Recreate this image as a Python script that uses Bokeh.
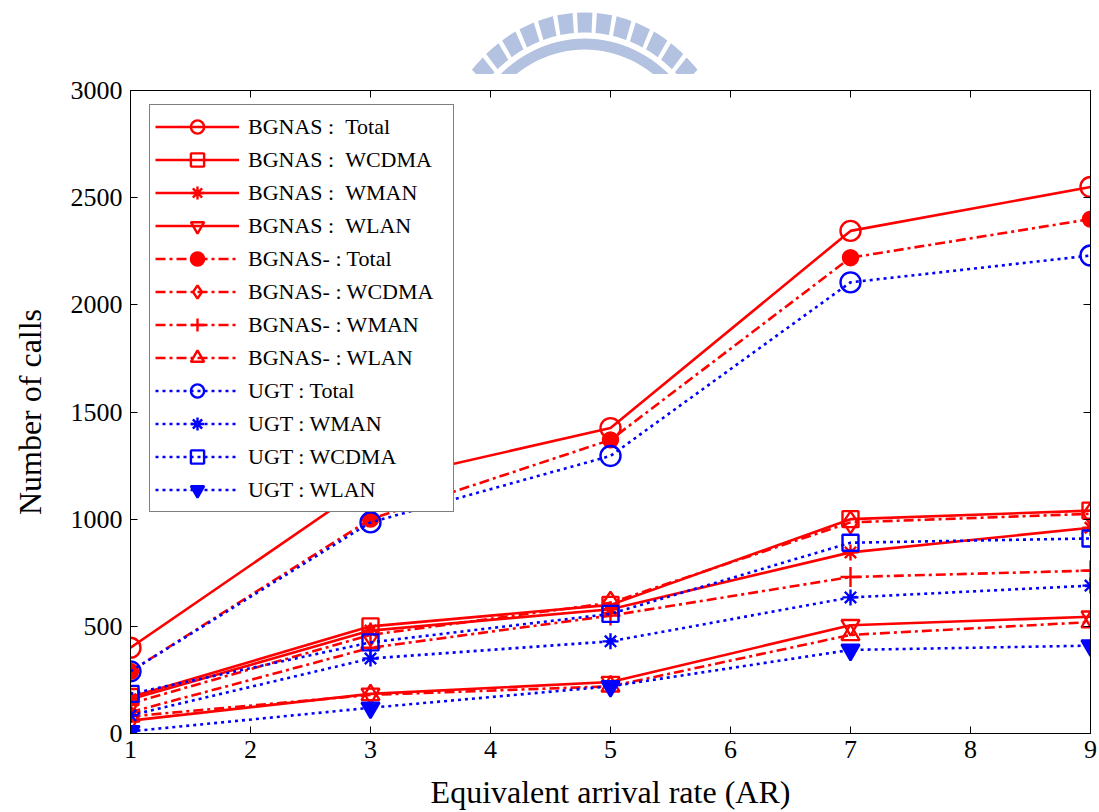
import math

from bokeh.embed import file_html
from bokeh.layouts import column
from bokeh.models import Legend, LegendItem, LinearAxis, Range1d
from bokeh.plotting import figure
from bokeh.resources import INLINE

# ---------------------------------------------------------------- data
arrival_rate = [1, 3, 5, 7, 9]

bgnas_total = [400, 1170, 1425, 2345, 2550]
bgnas_wcdma = [170, 500, 600, 1000, 1040]
bgnas_wman = [160, 480, 580, 845, 960]
bgnas_wlan = [60, 185, 240, 505, 545]

bgnas_minus_total = [290, 1000, 1370, 2220, 2400]
bgnas_minus_wcdma = [140, 460, 610, 985, 1025]
bgnas_minus_wman = [100, 400, 550, 730, 760]
bgnas_minus_wlan = [80, 180, 220, 460, 520]

ugt_total = [290, 985, 1295, 2105, 2230]
ugt_wman = [85, 350, 430, 635, 690]
ugt_wcdma = [185, 425, 558, 890, 910]
ugt_wlan = [10, 120, 220, 390, 410]

x_ticks = [1, 2, 3, 4, 5, 6, 7, 8, 9]
y_ticks = [0, 500, 1000, 1500, 2000, 2500, 3000]

series_labels = [
    "BGNAS : \u00a0Total", "BGNAS : \u00a0WCDMA", "BGNAS : \u00a0WMAN", "BGNAS : \u00a0WLAN",
    "BGNAS- : Total", "BGNAS- : WCDMA", "BGNAS- : WMAN", "BGNAS- : WLAN",
    "UGT : Total", "UGT : WMAN", "UGT : WCDMA", "UGT : WLAN",
]
series_values = [
    bgnas_total, bgnas_wcdma, bgnas_wman, bgnas_wlan,
    bgnas_minus_total, bgnas_minus_wcdma, bgnas_minus_wman, bgnas_minus_wlan,
    ugt_total, ugt_wman, ugt_wcdma, ugt_wlan,
]

# ---------------------------------------------------------------- styles
RED = "#ff0000"
BLUE = "#0000ff"
SOLID = "solid"
DASHDOT = "10 4 3 4"
DOTTED = "3 4"

# (colour, dash, marker, marker size, filled)
series_styles = [
    (RED, SOLID, "circle", 20, False),
    (RED, SOLID, "square", 16, False),
    (RED, SOLID, "asterisk", 16, False),
    (RED, SOLID, "inverted_triangle", 18, False),
    (RED, DASHDOT, "circle", 15, True),
    (RED, DASHDOT, "diamond", 22, False),
    (RED, DASHDOT, "cross", 20, False),
    (RED, DASHDOT, "triangle", 18, False),
    (BLUE, DOTTED, "circle", 20, False),
    (BLUE, DOTTED, "asterisk", 16, False),
    (BLUE, DOTTED, "square", 16, False),
    (BLUE, DOTTED, "inverted_triangle", 18, True),
]

FONT = "Liberation Serif"
PAGE_W = 1099
HEAD_H = 74          # height of the emblem strip
TOP_GAP = 16         # space between the strip and the plot frame

# ---------------------------------------------------------------- emblem strip above the chart
head = figure(
    width=PAGE_W, height=HEAD_H,
    x_range=Range1d(0, PAGE_W), y_range=Range1d(HEAD_H, 0),
    x_axis_location=None, y_axis_location=None,
    min_border=0, output_backend="svg", toolbar_location=None,
)
head.outline_line_color = None
head.xgrid.visible = False
head.ygrid.visible = False
head.background_fill_color = "white"
head.border_fill_color = "white"

EMBLEM = "#b3c2e0"
CX, CY = 520, 186


def sector(a0, a1, r0, r1, steps=8):
    pts = []
    for i in range(steps + 1):
        a = math.radians(a0 + (a1 - a0) * i / steps)
        pts.append((CX + r1 * math.sin(a), CY - r1 * math.cos(a)))
    for i in range(steps + 1):
        a = math.radians(a1 - (a1 - a0) * i / steps)
        pts.append((CX + r0 * math.sin(a), CY - r0 * math.cos(a)))
    return pts


def clip_top(pts, ymax):
    out = []
    for i in range(len(pts)):
        cur, prev = pts[i], pts[i - 1]
        cin, pin = cur[1] <= ymax, prev[1] <= ymax
        if cin != pin:
            t = (ymax - prev[1]) / (cur[1] - prev[1])
            out.append((prev[0] + t * (cur[0] - prev[0]), ymax))
        if cin:
            out.append(cur)
    return out


pieces = [sector(k * 7.5 - 2.9, k * 7.5 + 2.9, 154, 174, steps=3) for k in range(-12, 13)]
pieces.append(sector(-85, 85, 137, 148, steps=60))
emblem_xs, emblem_ys = [], []
for piece in pieces:
    clipped = clip_top(piece, HEAD_H)
    if len(clipped) >= 3:
        emblem_xs.append([x for x, _ in clipped])
        emblem_ys.append([y for _, y in clipped])
head.patches(emblem_xs, emblem_ys, fill_color=EMBLEM, line_color=None)

# ---------------------------------------------------------------- main chart
p = figure(
    frame_width=960, frame_height=643,
    x_range=Range1d(1, 9), y_range=Range1d(0, 3000),
    min_border_left=130, min_border_right=9,
    min_border_top=TOP_GAP, min_border_bottom=79,
    output_backend="svg", toolbar_location=None,
)
p.background_fill_color = "white"
p.border_fill_color = "white"
p.outline_line_color = "black"
p.outline_line_width = 1
p.xgrid.visible = False
p.ygrid.visible = False


def style_axis(ax, show_labels=True):
    ax.axis_line_color = "black"
    ax.axis_line_width = 1
    ax.major_tick_line_color = "black"
    ax.major_tick_line_width = 1
    ax.major_tick_in = 7
    ax.major_tick_out = 0
    ax.minor_tick_line_color = None
    if show_labels:
        ax.major_label_text_font = FONT
        ax.major_label_text_font_size = "26px"
        ax.major_label_text_color = "black"
        ax.axis_label_text_font = FONT
        ax.axis_label_text_font_size = "32px"
        ax.axis_label_text_font_style = "normal"
        ax.axis_label_text_color = "black"
    else:
        ax.major_label_text_font_size = "1px"
        ax.major_label_text_color = None
        ax.major_label_standoff = 0


p.xaxis.ticker = x_ticks
p.yaxis.ticker = y_ticks
p.xaxis.axis_label = "Equivalent arrival rate (AR)"
p.yaxis.axis_label = "Number of calls"
style_axis(p.xaxis[0])
style_axis(p.yaxis[0])
p.xaxis.major_label_standoff = 7
p.xaxis.axis_label_standoff = 13
p.yaxis.major_label_standoff = 8
p.yaxis.axis_label_standoff = 20

top_axis = LinearAxis(ticker=x_ticks)
right_axis = LinearAxis(ticker=y_ticks)
style_axis(top_axis, show_labels=False)
style_axis(right_axis, show_labels=False)
p.add_layout(top_axis, "above")
p.add_layout(right_axis, "right")

items = []
for label, values, (color, dash, marker, size, filled) in zip(series_labels, series_values, series_styles):
    line = p.line(arrival_rate, values, line_color=color, line_width=2.6, line_dash=dash)
    pts = p.scatter(
        arrival_rate, values, marker=marker, size=size,
        line_color=color, line_width=2.4,
        fill_color=color if filled else None,
    )
    items.append(LegendItem(label=label, renderers=[line, pts]))

legend = Legend(
    items=items, location=(19, 221), margin=0, padding=5,
    spacing=0, glyph_height=33, glyph_width=84, label_height=33,
    label_standoff=9, label_width=200,
    label_text_font=FONT, label_text_font_size="22px", label_text_color="black",
    border_line_color="black", border_line_width=1,
    background_fill_color="white", background_fill_alpha=1,
)
p.add_layout(legend)

page = column(head, p, spacing=0)
open("out.html", "w").write(file_html(page, INLINE))
